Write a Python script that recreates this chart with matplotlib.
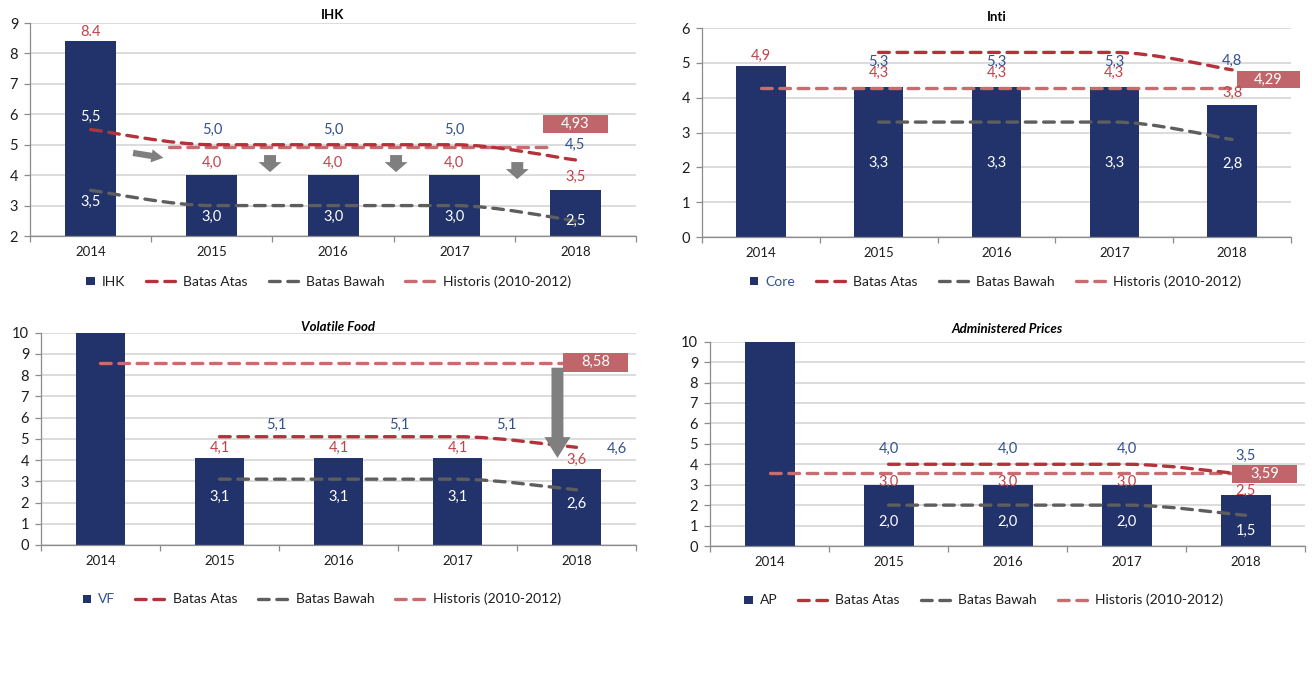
import numpy as np
import matplotlib
matplotlib.use("Agg")
import matplotlib.pyplot as plt
from matplotlib.path import Path
from matplotlib.patches import PathPatch, Rectangle, Patch
from matplotlib.lines import Line2D
from matplotlib.legend_handler import HandlerPatch

plt.rcParams["font.family"] = ["Lato", "DejaVu Sans"]

years = ["2014", "2015", "2016", "2017", "2018"]

# IHK (headline CPI): bar = realisasi/target midpoint, band = target range
ihk_bar = [8.4, 4.0, 4.0, 4.0, 3.5]
ihk_upper = [5.5, 5.0, 5.0, 5.0, 4.5]
ihk_lower = [3.5, 3.0, 3.0, 3.0, 2.5]
ihk_hist = 4.93

# Inti (core)
core_bar = [4.9, 4.3, 4.3, 4.3, 3.8]
core_upper = [np.nan, 5.3, 5.3, 5.3, 4.8]
core_lower = [np.nan, 3.3, 3.3, 3.3, 2.8]
core_hist = 4.29

# Volatile food
vf_bar = [10.9, 4.1, 4.1, 4.1, 3.6]
vf_upper = [np.nan, 5.1, 5.1, 5.1, 4.6]
vf_lower = [np.nan, 3.1, 3.1, 3.1, 2.6]
vf_hist = 8.58

# Administered prices
ap_bar = [17.6, 3.0, 3.0, 3.0, 2.5]
ap_upper = [np.nan, 4.0, 4.0, 4.0, 3.5]
ap_lower = [np.nan, 2.0, 2.0, 2.0, 1.5]
ap_hist = 3.59

NAVY = "#21336A"
RED = "#B5323A"
GRAY = "#5E5E5E"
PINK = "#C96B6F"
BOX = "#C0666A"
BLUE_TXT = "#34508F"
RED_TXT = "#C0434B"
ARROW = "#7F7F7F"
DARK = "#1E1E1E"
SPINE = "#8C8C8C"
GRID = "#D9D9D9"

DASH = (0, (3.2, 2.3))
LW = 2.4


def fmt(v, sep=","):
    return f"{v:.1f}".replace(".", sep)


def smooth_path(xs, ys):
    # cubic Bezier through the points; flat where a neighbouring segment is flat
    pts = np.column_stack([xs, ys])
    n = len(pts)
    tan = np.zeros_like(pts)
    for i in range(n):
        tan[i] = (pts[min(i + 1, n - 1)] - pts[max(i - 1, 0)]) / 6.0
        if 0 < i < n - 1:
            d0 = pts[i, 1] - pts[i - 1, 1]
            d1 = pts[i + 1, 1] - pts[i, 1]
            if d0 * d1 <= 0:
                tan[i, 1] = 0.0
    verts = [pts[0]]
    codes = [Path.MOVETO]
    for i in range(n - 1):
        verts += [pts[i] + tan[i], pts[i + 1] - tan[i + 1], pts[i + 1]]
        codes += [Path.CURVE4] * 3
    return Path(verts, codes)


def band_line(ax, values, color, z):
    x = np.arange(len(values), dtype=float)
    v = np.asarray(values, dtype=float)
    ok = ~np.isnan(v)
    patch = PathPatch(smooth_path(x[ok], v[ok]), facecolor="none", edgecolor=color,
                      lw=LW, linestyle=DASH, capstyle="round", zorder=z)
    ax.add_patch(patch)


def square_patch(legend, orig_handle, xdescent, ydescent, width, height, fontsize):
    side = 0.58 * fontsize
    return Rectangle((-xdescent + width - side, -ydescent + (height - side) / 2), side, side)


def label(ax, x, y, text, dx, dy, color):
    ax.annotate(text, (x + dx, y), xytext=(0, dy), textcoords="offset points",
                ha="center", va="center", color=color, fontsize=10.5,
                annotation_clip=False, zorder=7)


def arrow(ax, tail, tip, style):
    ax.annotate("", xy=tip, xytext=tail,
                arrowprops=dict(arrowstyle=style, color=ARROW, lw=0,
                                shrinkA=0, shrinkB=0, mutation_scale=10),
                zorder=6, annotation_clip=False)


def draw_panel(ax, p):
    x = np.arange(len(years))
    ax.bar(x, p["bar"], width=0.42, color=NAVY, zorder=2)

    y0, y1 = p["ylim"]
    ax.set_xlim(-0.5, len(years) - 0.5)
    ax.set_ylim(y0, y1)
    ax.set_yticks(np.arange(y0, y1 + 1))
    ax.yaxis.grid(True, color=GRID, lw=1.3)
    ax.set_axisbelow(True)
    ax.set_xticks(x)
    ax.set_xticklabels(years)
    ax.set_xticks(np.arange(-0.5, len(years)), minor=True)
    for s in ("top", "right"):
        ax.spines[s].set_visible(False)
    for s in ("left", "bottom"):
        ax.spines[s].set_color(SPINE)
        ax.spines[s].set_linewidth(0.9)
    ax.tick_params(axis="y", length=4.5, width=0.9, color=SPINE, labelsize=10.5,
                   pad=4, labelcolor=DARK)
    ax.tick_params(axis="x", which="major", length=0, labelsize=9.5, pad=7,
                   labelcolor=DARK)
    ax.tick_params(axis="x", which="minor", length=4.5, width=0.9, color=SPINE)

    # historical average and its value box
    hx0, hx1 = p["hist_span"]
    ax.plot([hx0, hx1], [p["hist"], p["hist"]], color=PINK, lw=LW, linestyle=DASH,
            dash_capstyle="round", zorder=3)
    (bx0, bx1), (by0, by1) = p["box"]
    ax.add_patch(Rectangle((bx0, by0), bx1 - bx0, by1 - by0, facecolor=BOX,
                           edgecolor="none", clip_on=False, zorder=6))
    ax.text((bx0 + bx1) / 2, (by0 + by1) / 2, f"{p['hist']:.2f}".replace(".", ","),
            ha="center", va="center", color="white", fontsize=10.5, zorder=7)

    band_line(ax, p["lower"], GRAY, 4)
    band_line(ax, p["upper"], RED, 5)

    lay = p["layout"]
    for i in x:
        b = p["bar"][i]
        if lay["bar_dy"][i] is not None:
            txt = fmt(b, lay.get("first_sep", ",") if i == 0 else ",")
            label(ax, i, b, txt, 0, lay["bar_dy"][i], RED_TXT)
        u = p["upper"][i]
        if not np.isnan(u):
            label(ax, i, u, fmt(u), lay["upper_dx"][i], lay["upper_dy"][i],
                  lay["upper_col"][i])
        lo = p["lower"][i]
        if not np.isnan(lo):
            label(ax, i, lo, fmt(lo), 0, lay["lower_dy"][i], "white")

    for tail, tip, style in p.get("arrows", []):
        arrow(ax, tail, tip, style)

    ax.set_title(p["title"], fontsize=9.5, fontweight="bold",
                 fontstyle="italic" if p["italic"] else "normal",
                 pad=p["title_pad"], color="black")

    handles = [
        Patch(facecolor=NAVY, label=p["name"]),
        Line2D([], [], color=RED, lw=LW, linestyle=DASH, dash_capstyle="round",
               label="Batas Atas"),
        Line2D([], [], color=GRAY, lw=LW, linestyle=DASH, dash_capstyle="round",
               label="Batas Bawah"),
        Line2D([], [], color=PINK, lw=LW, linestyle=DASH, dash_capstyle="round",
               label="Historis (2010-2012)"),
    ]
    leg = ax.legend(handles=handles, ncol=4, loc="center left",
                    bbox_to_anchor=p["legend_at"], frameon=False, fontsize=10,
                    borderpad=0, borderaxespad=0, handlelength=2.2,
                    handletextpad=0.5, columnspacing=1.5,
                    handler_map={Patch: HandlerPatch(patch_func=square_patch)})
    for t in leg.get_texts():
        t.set_color(DARK)
    leg.get_texts()[0].set_color(p["name_color"])


SIMPLE_DOWN = "simple,head_length=0.72,head_width=1.65,tail_width=0.86"
SIMPLE_RIGHT = "simple,head_length=0.86,head_width=0.94,tail_width=0.45"
SIMPLE_BIG = "simple,head_length=1.5,head_width=1.87,tail_width=0.86"

panels = [
    dict(title="IHK", italic=False, bar=ihk_bar, upper=ihk_upper, lower=ihk_lower,
         hist=ihk_hist, name="IHK", name_color=DARK, ylim=(2, 9),
         rect=[0.0229, 0.6514, 0.4619, 0.3146], title_pad=3,
         hist_span=(0.65, 3.79), box=((3.73, 4.27), (5.39, 5.98)),
         legend_at=(0.056, -0.216),
         layout=dict(bar_dy=[6.5, 8.6, 8.6, 8.6, 9.4], first_sep=".",
                     upper_dx=[0, 0, 0, 0, 0], upper_dy=[9.0, 10.5, 10.5, 10.5, 10.5],
                     upper_col=["white", BLUE_TXT, BLUE_TXT, BLUE_TXT, BLUE_TXT],
                     lower_dy=[-8, -8.3, -8.3, -8.3, 0]),
         arrows=[((0.35, 4.73), (0.60, 4.57), SIMPLE_RIGHT),
                 ((1.48, 4.66), (1.48, 4.10), SIMPLE_DOWN),
                 ((2.52, 4.66), (2.52, 4.10), SIMPLE_DOWN),
                 ((3.52, 4.43), (3.52, 3.87), SIMPLE_DOWN)]),
    dict(title="Inti", italic=False, bar=core_bar, upper=core_upper, lower=core_lower,
         hist=core_hist, name="Core", name_color=BLUE_TXT, ylim=(0, 6),
         rect=[0.535, 0.6499, 0.449, 0.3087], title_pad=5,
         hist_span=(0.0, 4.04), box=((4.04, 4.58), (4.27, 4.78)),
         legend_at=(0.044, -0.215),
         layout=dict(bar_dy=[7.2, 10, 10, 10, 8.6],
                     upper_dx=[0, 0, 0, 0, 0], upper_dy=[0, -6.5, -6.5, -6.5, 6.1],
                     upper_col=[BLUE_TXT] * 5,
                     lower_dy=[0, -29.5, -29.5, -29.5, -17.3])),
    dict(title="Volatile Food", italic=True, bar=vf_bar, upper=vf_upper, lower=vf_lower,
         hist=vf_hist, name="VF", name_color=BLUE_TXT, ylim=(0, 10),
         rect=[0.03125, 0.195, 0.4535, 0.3136], title_pad=1,
         hist_span=(0.0, 3.89), box=((3.89, 4.43), (8.16, 9.06)),
         legend_at=(0.032, -0.255),
         layout=dict(bar_dy=[None, 7.4, 7.4, 7.4, 6.5],
                     upper_dx=[0, 0.48, 0.51, 0.41, 0.34], upper_dy=[0, 8.6, 8.6, 8.6, -1],
                     upper_col=[BLUE_TXT] * 5,
                     lower_dy=[0, -13, -13, -13, -10])),
    dict(title="Administered Prices", italic=True, bar=ap_bar, upper=ap_upper,
         lower=ap_lower, hist=ap_hist, name="AP", name_color=DARK, ylim=(0, 10),
         rect=[0.5412, 0.1935, 0.4535, 0.3018], title_pad=6,
         hist_span=(0.0, 3.98), box=((3.89, 4.43), (3.09, 3.97)),
         legend_at=(0.02, -0.265),
         layout=dict(bar_dy=[None, 2.2, 2.2, 2.2, 2.9],
                     upper_dx=[0, 0, 0, 0, 0], upper_dy=[0, 10.8, 10.8, 10.8, 13.3],
                     upper_col=[BLUE_TXT] * 5,
                     lower_dy=[0, -12.2, -12.2, -12.2, -11.5])),
]
panels[2]["arrows"] = [((3.84, 8.35), (3.84, 4.10), SIMPLE_BIG)]

fig = plt.figure(figsize=(13.12, 6.77), dpi=100)
for p in panels:
    ax = fig.add_axes(p["rect"])
    draw_panel(ax, p)

fig.savefig("out.png", dpi=100, facecolor="white")
